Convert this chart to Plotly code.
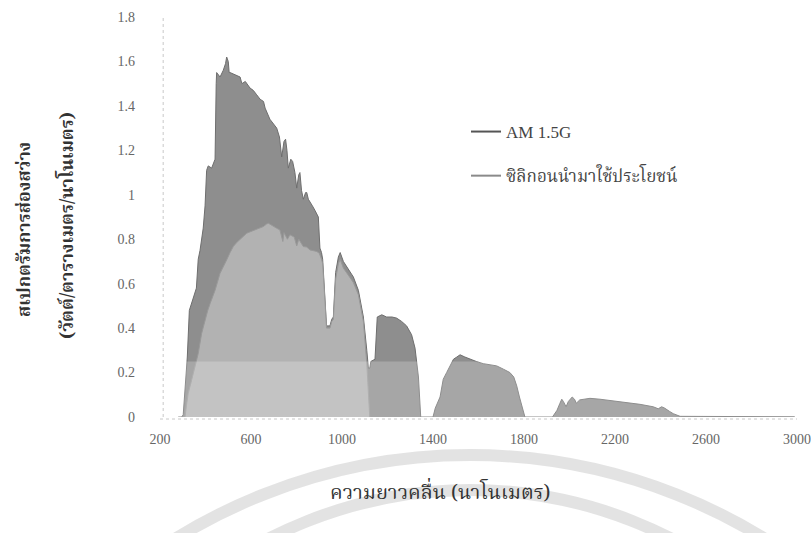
import plotly.graph_objects as go

# AM 1.5G spectral irradiance (W/m^2/nm) against wavelength (nm)
am_nm = [280, 295, 302, 310, 314, 320, 329, 339, 354, 360, 368, 376, 390, 398, 405, 412,
         427, 437, 442, 447, 449, 464, 478, 488, 493, 500, 504, 508, 530, 552, 560, 575,
         596, 610, 625, 640, 655, 662, 683, 700, 713, 725, 735, 745, 752, 758, 764, 775,
         783, 793, 801, 810, 815, 822, 830, 840, 845, 852, 859, 870, 881, 896, 903, 910,
         915, 921, 927, 932, 947, 955, 962, 972, 984, 992, 1006, 1030, 1050, 1072, 1094,
         1109, 1116, 1122, 1127, 1145, 1150, 1155, 1175, 1196, 1220, 1240, 1262, 1284,
         1306, 1321, 1336, 1346, 1400, 1410, 1431, 1445, 1460, 1475, 1490, 1505, 1519,
         1540, 1563, 1590, 1621, 1650, 1680, 1710, 1738, 1755, 1768, 1780, 1790, 1804,
         1925, 1945, 1958, 1966, 1973, 1985, 1995, 2005, 2012, 2022, 2030, 2045, 2061,
         2090, 2134, 2193, 2251, 2310, 2368, 2390, 2405, 2418, 2440, 2456, 2486, 2600,
         2800, 2990]
am_val = [0.0, 0.0, 0.01, 0.12, 0.2, 0.27, 0.48, 0.51, 0.56, 0.58, 0.71, 0.75, 0.85, 0.95, 1.11, 1.13,
          1.12, 1.15, 1.16, 1.50, 1.55, 1.53, 1.56, 1.59, 1.62, 1.60, 1.55, 1.55, 1.54, 1.53, 1.50, 1.51,
          1.48, 1.47, 1.45, 1.43, 1.42, 1.39, 1.34, 1.32, 1.30, 1.26, 1.17, 1.24, 1.25, 1.20, 1.12, 1.16,
          1.15, 1.10, 1.03, 1.09, 1.10, 1.02, 0.98, 1.01, 1.01, 0.98, 0.97, 0.95, 0.93, 0.90, 0.76, 0.74,
          0.71, 0.62, 0.50, 0.41, 0.41, 0.44, 0.45, 0.65, 0.72, 0.74, 0.70, 0.66, 0.63, 0.57, 0.45,
          0.30, 0.22, 0.22, 0.25, 0.26, 0.40, 0.45, 0.46, 0.45, 0.45, 0.445, 0.43, 0.41,
          0.37, 0.31, 0.18, 0.0, 0.0, 0.04, 0.09, 0.17, 0.20, 0.23, 0.26, 0.27, 0.28,
          0.27, 0.26, 0.25, 0.24, 0.235, 0.23, 0.215, 0.20, 0.18, 0.14, 0.09, 0.05, 0.0,
          0.0, 0.03, 0.062, 0.08, 0.07, 0.046, 0.07, 0.085, 0.09, 0.08, 0.062, 0.077, 0.08,
          0.084, 0.08, 0.073, 0.066, 0.057, 0.046, 0.037, 0.046, 0.040, 0.025, 0.015, 0.003, 0.003,
          0.002, 0.001]

# Portion of the spectrum that silicon can make use of
si_nm = [300, 310, 316, 324, 335, 346, 357, 368, 383, 398, 410, 420, 442, 464, 478, 493, 508,
         522, 537, 552, 566, 581, 600, 618, 635, 654, 668, 676, 688, 698, 712, 727, 740, 745,
         760, 771, 790, 801, 810, 830, 845, 859, 870, 889, 900, 903, 910, 915, 921, 927, 932,
         947, 955, 962, 972, 984, 992, 1006, 1030, 1050, 1072, 1094, 1109, 1116, 1122]
si_val = [0.0, 0.0, 0.05, 0.107, 0.15, 0.196, 0.24, 0.286, 0.376, 0.437, 0.48, 0.51, 0.57, 0.647, 0.68, 0.707, 0.74,
          0.767, 0.785, 0.80, 0.815, 0.827, 0.835, 0.842, 0.85, 0.857, 0.868, 0.872, 0.865, 0.857, 0.85, 0.842, 0.79, 0.83,
          0.80, 0.82, 0.81, 0.77, 0.80, 0.767, 0.765, 0.752, 0.75, 0.745, 0.737, 0.73, 0.71, 0.69, 0.61, 0.49, 0.40,
          0.40, 0.43, 0.44, 0.62, 0.69, 0.71, 0.67, 0.635, 0.605, 0.55, 0.43, 0.24, 0.08, 0.0]

x_ticks = [200, 600, 1000, 1400, 1800, 2200, 2600, 3000]
y_ticks = [0, 0.2, 0.4, 0.6, 0.8, 1, 1.2, 1.4, 1.6, 1.8]
y_tick_text = ["0", "0.2", "0.4", "0.6", "0.8", "1", "1.2", "1.4", "1.6", "1.8"]

name_am = "AM 1.5G"
name_si = "ซิลิกอนนำมาใช้ประโยชน์"

THAI = "Noto Serif Thai, Noto Sans Thai, Norasi, Loma, Garuda, Tlwg Typo, serif"
SERIF = "Liberation Serif, Times New Roman, serif"

fig = go.Figure()
fig.add_trace(go.Scatter(x=am_nm, y=am_val, mode="lines", fill="tozeroy",
                         line=dict(color="#6e6e6e", width=1), fillcolor="#8e8e8e",
                         name=name_am, showlegend=False, legendgroup="am"))
fig.add_trace(go.Scatter(x=si_nm, y=si_val, mode="lines", fill="tozeroy",
                         line=dict(color="#999999", width=1), fillcolor="#b2b2b2",
                         name=name_si, showlegend=False, legendgroup="si"))
# legend keys drawn as short lines
fig.add_trace(go.Scatter(x=[None], y=[None], mode="lines", name=name_am,
                         line=dict(color="#555555", width=2), legendgroup="am"))
fig.add_trace(go.Scatter(x=[None], y=[None], mode="lines", name=name_si,
                         line=dict(color="#8a8a8a", width=2), legendgroup="si"))

W, H = 811, 533
L, R, T, B = 160, 14, 17, 116
pw, ph = W - L - R, H - T - B


def px_x(p):
    return (p - L) / pw


def px_y(p):
    return (H - B - p) / ph


shapes = [
    # light band across the lower part of the plot
    dict(type="rect", xref="x", yref="y", x0=200, x1=3000, y0=0, y1=0.25,
         fillcolor="rgba(255,255,255,0.22)", line=dict(width=0), layer="above"),
    # dotted frame lines on the left and bottom
    dict(type="line", xref="paper", yref="paper", x0=0.005, x1=0.005, y0=0, y1=1,
         line=dict(color="#c8c8c8", width=1, dash="dot")),
    dict(type="line", xref="paper", yref="paper", x0=0, x1=1, y0=-0.005, y1=-0.005,
         line=dict(color="#c8c8c8", width=1, dash="dot")),
    # faint arcs under the axis
    dict(type="circle", xref="paper", yref="paper",
         x0=px_x(470 - 560), x1=px_x(470 + 560), y0=px_y(455), y1=px_y(1015 + 560),
         line=dict(color="rgba(218,218,218,0.75)", width=12), layer="below"),
    dict(type="circle", xref="paper", yref="paper",
         x0=px_x(470 - 441), x1=px_x(470 + 441), y0=px_y(490), y1=px_y(931 + 441),
         line=dict(color="rgba(218,218,218,0.75)", width=12), layer="below"),
]

annotations = [
    dict(text="<b>สเปกตรัมการส่องสว่าง</b>", textangle=-90, xref="paper", yref="paper",
         x=px_x(25), y=px_y(230), showarrow=False, xanchor="center", yanchor="middle",
         font=dict(family=THAI, size=18, color="#333333")),
    dict(text="<b>(วัตต์/ตารางเมตร/นาโนเมตร)</b>", textangle=-90, xref="paper", yref="paper",
         x=px_x(68), y=px_y(226), showarrow=False, xanchor="center", yanchor="middle",
         font=dict(family=THAI, size=18, color="#333333")),
    dict(text="ความยาวคลื่น (นาโนเมตร)", xref="paper", yref="paper",
         x=px_x(440), y=px_y(493), showarrow=False, xanchor="center", yanchor="middle",
         font=dict(family=THAI, size=20, color="#333333")),
]

fig.update_layout(
    width=W, height=H,
    margin=dict(l=L, r=R, t=T, b=B, autoexpand=False),
    paper_bgcolor="white", plot_bgcolor="white",
    showlegend=True,
    legend=dict(x=px_x(466), y=px_y(114), xanchor="left", yanchor="top",
                bgcolor="rgba(0,0,0,0)", tracegroupgap=19, itemwidth=30,
                font=dict(family=SERIF + ", " + THAI, size=17, color="#444444")),
    shapes=shapes,
    annotations=annotations,
)
fig.update_xaxes(range=[200, 3000], tickvals=x_ticks, showgrid=False, zeroline=False,
                 showline=False, ticks="", ticklabelstandoff=12, automargin=False,
                 tickfont=dict(family=SERIF, size=14, color="#666666"))
fig.update_yaxes(range=[0, 1.8], tickvals=y_ticks, ticktext=y_tick_text, showgrid=False,
                 zeroline=False, showline=False, ticks="", ticklabelstandoff=24, automargin=False,
                 tickfont=dict(family=SERIF, size=14, color="#666666"))

fig.write_html("out.html")
